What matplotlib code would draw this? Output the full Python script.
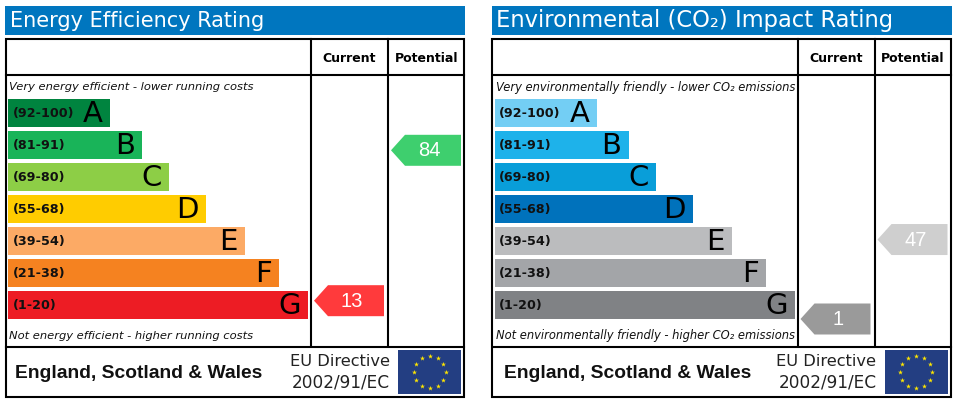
import numpy as np
import matplotlib.pyplot as plt
from matplotlib.patches import Polygon, Rectangle

# data
bands = ['A', 'B', 'C', 'D', 'E', 'F', 'G']
ranges = ['(92-100)', '(81-91)', '(69-80)', '(55-68)', '(39-54)', '(21-38)', '(1-20)']
range_low = [92, 81, 69, 55, 39, 21, 1]
range_high = [100, 91, 80, 68, 54, 38, 20]
bar_lengths = [102, 134, 161, 198, 237, 271, 300]

energy_colors = ['#00843f', '#19b459', '#8dce46', '#ffcc00', '#fcaa65', '#f58220', '#ed1c24']
env_colors = ['#73cef4', '#1eb2ea', '#099ed9', '#0072bc', '#bbbcbe', '#a3a5a8', '#808285']

energy_current = 13
energy_potential = 84
env_current = 1
env_potential = 47


def band_index(score):
    for i in range(len(bands)):
        if range_low[i] <= score <= range_high[i]:
            return i
    return len(bands) - 1


def score_to_y(score):
    # the arrow sits inside its band, higher score means higher up
    i = band_index(score)
    top = 98 + i * 32
    return top + (range_high[i] - score) / (range_high[i] - range_low[i]) * 29


def draw_arrow(ax, x0, score, color):
    y = score_to_y(score)
    pts = [(x0, y), (x0 + 14, y - 15.5), (x0 + 70, y - 15.5), (x0 + 70, y + 15.5), (x0 + 14, y + 15.5)]
    ax.add_patch(Polygon(pts, closed=True, fc=color, ec='none'))
    ax.text(x0 + 38, y + 0.5, str(score), color='white', fontsize=14.5, ha='center', va='center',
            family='Liberation Sans')


def draw_flag(ax, x0, y0):
    ax.add_patch(Rectangle((x0, y0), 63, 44, fc='#233e82', ec='none'))
    ang = np.arange(12) * np.pi / 6
    ax.scatter(x0 + 31.5 + 16 * np.cos(ang), y0 + 22 + 16 * np.sin(ang), marker='*', s=14,
               color='#ffe600', linewidths=0, zorder=3)


def draw_panel(ax, off, title, title_size, colors, top_text, bottom_text, text_size, current, potential,
               cur_color, pot_color, country_x):
    ax.add_patch(Rectangle((off + 5, 6), 460, 29, fc='#0076bf', ec='none'))
    ax.text(off + 10, 21, title, color='white', fontsize=title_size, va='center', ha='left')

    # frame and grid lines
    ax.add_patch(Rectangle((off + 5.5, 39), 458.5, 358, fc='white', ec='black', lw=1.5))
    ax.plot([off + 6, off + 464], [75, 75], color='black', lw=1.5)
    ax.plot([off + 6, off + 464], [346.5, 346.5], color='black', lw=1.5)
    ax.plot([off + 311, off + 311], [39, 346], color='black', lw=1.5)
    ax.plot([off + 388, off + 388], [39, 346], color='black', lw=1.5)

    ax.text(off + 349.5, 58.5, 'Current', fontsize=9, fontweight='bold', ha='center', va='center')
    ax.text(off + 426.5, 58.5, 'Potential', fontsize=9, fontweight='bold', ha='center', va='center')

    ypos = 113 + np.arange(len(bands)) * 32
    ax.barh(ypos, bar_lengths, height=28, left=off + 8, color=colors)
    for i in range(len(bands)):
        ax.text(off + 12.5, ypos[i] + 0.5, ranges[i], fontsize=9.2, fontweight='bold', va='center', ha='left',
                color='#111111')
        ax.text(off + 8 + bar_lengths[i] - 7, ypos[i] + 1, bands[i], fontsize=21, va='center', ha='right',
                color='black')

    ax.text(off + 9, 87.5, top_text, fontsize=text_size, style='italic', va='center', ha='left', color='#111111')
    ax.text(off + 9, 336, bottom_text, fontsize=text_size, style='italic', va='center', ha='left', color='#111111')

    draw_arrow(ax, off + 314, current, cur_color)
    draw_arrow(ax, off + 391, potential, pot_color)

    ax.text(off + country_x, 373.5, 'England, Scotland & Wales', fontsize=13.9, fontweight='bold', va='center',
            ha='left', family='Liberation Sans', color='#111111')
    ax.text(off + 390, 362, 'EU Directive', fontsize=11.7, va='center', ha='right', color='#222222')
    ax.text(off + 390, 382.5, '2002/91/EC', fontsize=12.2, va='center', ha='right', color='#222222')
    draw_flag(ax, off + 398, 350)


fig = plt.figure(figsize=(9.57, 4.04), dpi=100)
ax = fig.add_axes([0, 0, 1, 1])
ax.set_xlim(0, 957)
ax.set_ylim(404, 0)
ax.axis('off')

draw_panel(ax, 0, 'Energy Efficiency Rating', 15, energy_colors,
           'Very energy efficient - lower running costs', 'Not energy efficient - higher running costs', 8.25,
           energy_current, energy_potential, '#ff3a3c', '#3ecf6e', 15)
draw_panel(ax, 486.5, 'Environmental (CO\u2082) Impact Rating', 16.3, env_colors,
           'Very environmentally friendly - lower CO\u2082 emissions',
           'Not environmentally friendly - higher CO\u2082 emissions', 8.3,
           env_current, env_potential, '#9a9a9a', '#cfcfcf', 17.5)

fig.savefig('out.png', dpi=100)
